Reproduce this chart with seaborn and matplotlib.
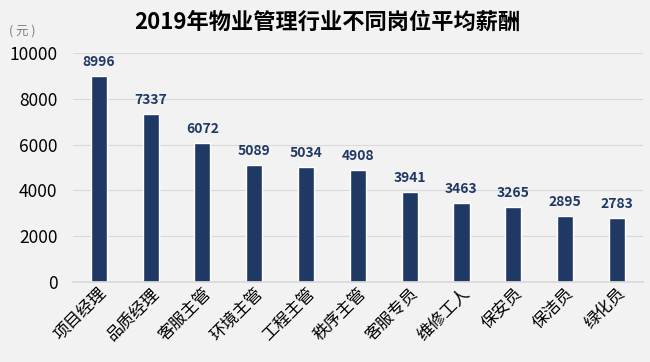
import matplotlib
matplotlib.use('Agg')
import matplotlib.pyplot as plt
import pandas as pd
import seaborn as sns

# Data
positions = ['项目经理', '品质经理', '客服主管', '环境主管', '工程主管', '秩序主管',
             '客服专员', '维修工人', '保安员', '保洁员', '绿化员']
salaries = [8996, 7337, 6072, 5089, 5034, 4908, 3941, 3463, 3265, 2895, 2783]

df = pd.DataFrame({'position': positions, 'salary': salaries})

sns.set_theme(style='white')
plt.rcParams['font.family'] = ['Noto Sans CJK SC', 'DejaVu Sans']

bg = '#f2f2f2'
navy = '#1f3864'

fig = plt.figure(figsize=(6.5, 3.62), dpi=100)
fig.patch.set_facecolor(bg)
ax = fig.add_axes([0.112, 0.221, 0.877, 0.633])
ax.set_facecolor(bg)

sns.barplot(data=df, x='position', y='salary', color=navy, width=0.31,
            saturation=1, ax=ax)

ax.set_ylim(0, 10000)
ax.set_xlim(-0.5, len(positions) - 0.5)
ax.set_yticks(range(0, 10001, 2000))
ax.yaxis.grid(True, color='#d9d9d9', linewidth=0.8)
ax.set_axisbelow(True)
for s in ax.spines.values():
    s.set_visible(False)
ax.spines['bottom'].set_visible(True)
ax.spines['bottom'].set_color('#d9d9d9')
ax.set_xlabel('')
ax.set_ylabel('')
ax.tick_params(axis='y', labelsize=12.5, length=0, pad=11, colors='black')
ax.tick_params(axis='x', labelsize=12, length=0, pad=2, colors='black')
plt.setp(ax.get_xticklabels(), rotation=45, ha='right', rotation_mode='anchor')

for i, v in enumerate(salaries):
    ax.annotate(str(v), (i, v), xytext=(0, 5), textcoords='offset points',
                ha='center', va='bottom', fontsize=10, fontweight='bold',
                color=navy)

fig.text(0.503, 0.94, '2019年物业管理行业不同岗位平均薪酬', ha='center', va='center',
         fontsize=16, fontweight='bold', color='black')
fig.text(0.014, 0.915, '( 元 )', ha='left', va='center', fontsize=9, color='#7f7f7f')

fig.savefig('out.png', dpi=100, facecolor=bg)
